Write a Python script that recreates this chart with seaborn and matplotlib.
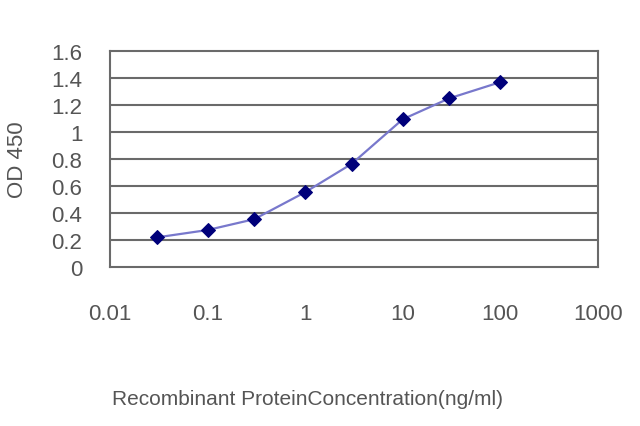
import numpy as np
import pandas as pd
import seaborn as sns
import matplotlib.pyplot as plt
from matplotlib import font_manager

conc = [0.03, 0.1, 0.3, 1, 3, 10, 30, 100]
od450 = [0.22, 0.275, 0.355, 0.555, 0.765, 1.095, 1.25, 1.37]
xticks = [0.01, 0.1, 1, 10, 100, 1000]
xtick_labels = ['0.01', '0.1', '1', '10', '100', '1000']
yticks = [0, 0.2, 0.4, 0.6, 0.8, 1.0, 1.2, 1.4, 1.6]
ytick_labels = ['0', '0.2', '0.4', '0.6', '0.8', '1', '1.2', '1.4', '1.6']

sns.set_theme(style='white')
names = {f.name for f in font_manager.fontManager.ttflist}
fam = 'Liberation Sans Narrow' if 'Liberation Sans Narrow' in names else 'Liberation Sans'
plt.rcParams['font.family'] = [fam, 'DejaVu Sans']

df = pd.DataFrame({'conc': conc, 'od': od450})
grid_c = '#6a6a6a'
text_c = '#555555'

fig = plt.figure(figsize=(6.4, 4.27), dpi=100)
ax = fig.add_axes([0.172, 0.372, 0.762, 0.506])
ax.set_xscale('log')
for y in yticks[1:-1]:
    ax.axhline(y, color=grid_c, lw=1.5, zorder=1)
sns.lineplot(data=df, x='conc', y='od', ax=ax, color='#7878cc', lw=1.6,
             marker='D', markersize=7, markerfacecolor='#00007a',
             markeredgecolor='#00007a', zorder=3)
ax.set_xlim(0.01, 1000)
ax.set_ylim(0, 1.6)
ax.set_xticks(xticks)
ax.set_xticklabels(xtick_labels)
ax.minorticks_off()
ax.set_yticks(yticks)
ax.set_yticklabels(ytick_labels)
for s in ax.spines.values():
    s.set_color(grid_c)
    s.set_linewidth(1.5)
ax.tick_params(axis='x', direction='in', length=4, color=grid_c, width=1.2,
               pad=26, labelsize=16, labelcolor=text_c)
ax.tick_params(axis='y', direction='out', length=3, color=grid_c, width=1.2,
               pad=17, labelsize=16, labelcolor=text_c)
ax.set_xlabel('Recombinant ProteinConcentration(ng/ml)', fontsize=15,
              color=text_c, va='center')
ax.xaxis.set_label_coords(0.405, -0.61)
ax.set_ylabel('OD 450', fontsize=16, color=text_c, va='center')
ax.yaxis.set_label_coords(-0.19, 0.5)

fig.savefig('out.png', dpi=100)
